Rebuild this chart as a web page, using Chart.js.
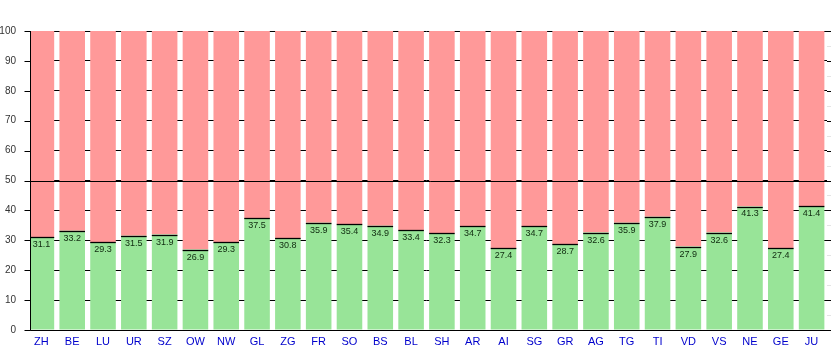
<!DOCTYPE html>
<html>
<head>
<meta charset="utf-8">
<script src="https://cdn.jsdelivr.net/npm/chart.js@4/dist/chart.umd.min.js"></script>
<style>
  body { margin: 0; background: #fff; }
  #wrap { width: 835px; height: 350px; }
</style>
</head>
<body>
<div id="wrap"><canvas id="shareChart" width="835" height="350"></canvas></div>
<script>
var cantons = ['ZH','BE','LU','UR','SZ','OW','NW','GL','ZG','FR','SO','BS','BL','SH','AR','AI','SG','GR','AG','TG','TI','VD','VS','NE','GE','JU'];
var yesShare = [31.1,33.2,29.3,31.5,31.9,26.9,29.3,37.5,30.8,35.9,35.4,34.9,33.4,32.3,34.7,27.4,34.7,28.7,32.6,35.9,37.9,27.9,32.6,41.3,27.4,41.4];
var noShare = yesShare.map(function (v) { return +(100 - v).toFixed(1); });
var yTicks = [0,10,20,30,40,50,60,70,80,90,100];

var AXIS_X = 30.5;   // the y axis sits a little inside the first category
var RIGHT_X = 831;

// axis lines, 50% line, black cap on each green bar, value labels
var overlay = {
  id: 'overlay',
  afterDatasetsDraw: function (chart) {
    var c = chart.ctx, area = chart.chartArea, y = chart.scales.y;
    var bottom = Math.round(y.getPixelForValue(0)) + 0.5;
    c.save();

    // clear the strip left of the axis
    c.fillStyle = '#fff';
    c.fillRect(area.left, area.top - 1, AXIS_X - area.left, area.bottom - area.top + 2);

    // extend grid lines past the last category
    c.lineWidth = 1;
    yTicks.concat([5,15,25,35,45,55,65,75,85,95]).forEach(function (v) {
      var py = Math.round(y.getPixelForValue(v)) + 0.5;
      c.strokeStyle = v % 10 === 0 ? '#000' : '#e4e4e4';
      c.beginPath();
      c.moveTo(area.right, py);
      c.lineTo(RIGHT_X, py);
      c.stroke();
    });

    c.strokeStyle = '#000';
    // 50% line
    var y50 = Math.round(y.getPixelForValue(50)) + 0.5;
    c.beginPath();
    c.moveTo(AXIS_X, y50);
    c.lineTo(RIGHT_X, y50);
    c.stroke();

    // tick marks
    yTicks.forEach(function (v) {
      var py = Math.round(y.getPixelForValue(v)) + 0.5;
      c.beginPath();
      c.moveTo(AXIS_X - 6, py);
      c.lineTo(AXIS_X, py);
      c.stroke();
    });

    // axes
    c.beginPath();
    c.moveTo(AXIS_X, area.top);
    c.lineTo(AXIS_X, bottom);
    c.lineTo(RIGHT_X, bottom);
    c.stroke();

    var bars = chart.getDatasetMeta(0).data;
    c.lineWidth = 1.3;
    bars.forEach(function (bar) {
      var top = Math.round(bar.y) + 0.5;
      c.beginPath();
      c.moveTo(Math.max(bar.x - bar.width / 2, AXIS_X), top);
      c.lineTo(bar.x + bar.width / 2, top);
      c.stroke();
    });

    c.font = '9px "Liberation Sans", Arial, sans-serif';
    c.fillStyle = '#0f2a0f';
    c.textAlign = 'center';
    c.textBaseline = 'top';
    bars.forEach(function (bar, i) {
      c.fillText(yesShare[i].toFixed(1), bar.x, bar.y + 3);
    });
    c.restore();
  }
};

new Chart(document.getElementById('shareChart'), {
  type: 'bar',
  data: {
    labels: cantons,
    datasets: [{
      data: yesShare,
      backgroundColor: '#98e498',
      borderWidth: 0,
      barPercentage: 0.83,
      categoryPercentage: 1
    }, {
      data: noShare,
      backgroundColor: '#ff9999',
      borderWidth: 0,
      barPercentage: 0.83,
      categoryPercentage: 1
    }]
  },
  options: {
    responsive: false,
    animation: false,
    layout: { padding: { top: 31, right: 8, left: 0, bottom: 0 } },
    plugins: { legend: { display: false }, tooltip: { enabled: false } },
    scales: {
      x: {
        stacked: true,
        grid: { display: false, drawTicks: false, tickLength: 0 },
        border: { display: false },
        ticks: { color: '#0000cc', font: { size: 11, family: '"Liberation Sans", Arial, sans-serif' }, padding: 5 },
        afterFit: function (s) { s.height = 20; }
      },
      y: {
        stacked: true,
        min: 0,
        max: 100,
        ticks: {
          stepSize: 5,
          color: '#333',
          padding: 10,
          font: { size: 10, family: '"Liberation Sans", Arial, sans-serif' },
          callback: function (v) { return yTicks.indexOf(v) >= 0 ? String(v) : ''; }
        },
        grid: {
          drawTicks: false,
          tickLength: 0,
          color: function (ctx) { return ctx.tick && ctx.tick.value % 10 === 0 ? '#000' : '#e4e4e4'; }
        },
        border: { display: false },
        afterFit: function (s) { s.width = 26; }
      }
    }
  },
  plugins: [overlay]
});
</script>
</body>
</html>
